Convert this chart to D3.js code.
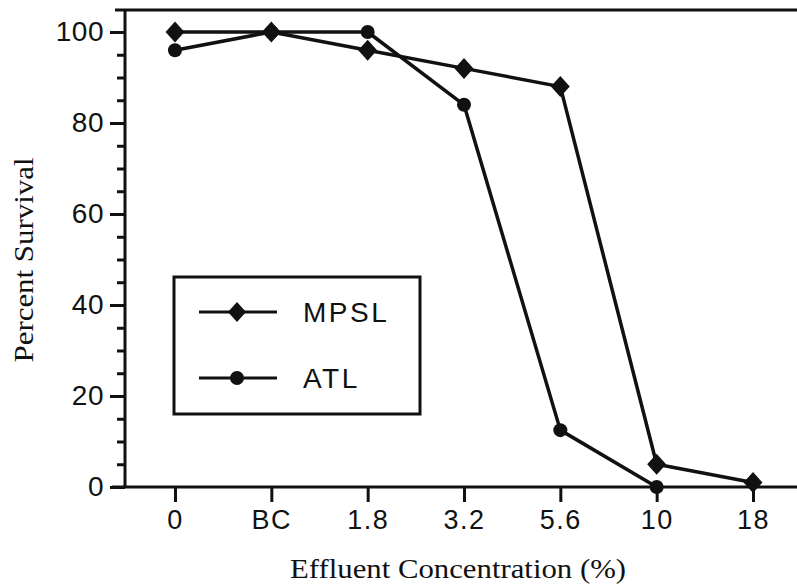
<!DOCTYPE html>
<html><head><meta charset="utf-8">
<script src="https://cdn.jsdelivr.net/npm/d3@7"></script>
<style>body{margin:0;background:#fff}</style>
</head><body>
<script>
const categories = ["0","BC","1.8","3.2","5.6","10","18"];
const mpsl = [100,100,96,92,88,5,1];
const atl = [96,100,100,84,12.5,0];
const yTicks = [0,20,40,60,80,100];
const yMinor = d3.range(0,101,5);
const seriesNames = ["MPSL","ATL"];

const W=797,H=587;
const svg=d3.select("body").append("svg").attr("width",W).attr("height",H);
const x=d3.scalePoint().domain(categories).range([175,753]);
const y=d3.scaleLinear().domain([0,100]).range([487,32]);
const ink="#111";
const sans="'Liberation Sans',Arial,sans-serif";
const serif="'Liberation Serif','Times New Roman',serif";

svg.append("line").attr("x1",115).attr("x2",W).attr("y1",10).attr("y2",10).attr("stroke",ink).attr("stroke-width",3);

const ya=svg.append("g").attr("transform","translate(125,0)")
  .call(d3.axisLeft(y).tickValues(yTicks).tickSize(15).tickPadding(6).tickFormat(d3.format("d")));
ya.select(".domain").remove();
ya.selectAll(".tick line").attr("stroke",ink).attr("stroke-width",3);
ya.selectAll(".tick text").attr("font-family",sans).attr("font-size",28).attr("letter-spacing",0.5).attr("fill",ink);
svg.append("g").attr("transform","translate(125,0)")
  .call(d3.axisLeft(y).tickValues(yMinor.filter(v=>v%20!==0)).tickSize(8).tickFormat(""))
  .call(g=>{g.select(".domain").remove();g.selectAll(".tick line").attr("stroke",ink).attr("stroke-width",3);});
svg.append("line").attr("x1",125).attr("x2",125).attr("y1",9).attr("y2",488).attr("stroke",ink).attr("stroke-width",3);

const xa=svg.append("g").attr("transform","translate(0,487)")
  .call(d3.axisBottom(x).tickSize(15).tickPadding(8));
xa.select(".domain").remove();
xa.selectAll(".tick line").attr("stroke",ink).attr("stroke-width",3);
xa.selectAll(".tick text").attr("font-family",sans).attr("font-size",27).attr("letter-spacing",1.5).attr("fill",ink);
svg.append("line").attr("x1",112).attr("x2",W).attr("y1",487).attr("y2",487).attr("stroke",ink).attr("stroke-width",3);

svg.append("text").attr("transform","translate(33,260) rotate(-90)").attr("text-anchor","middle")
  .attr("font-family",serif).attr("font-size",28).attr("fill",ink)
  .attr("textLength",205).attr("lengthAdjust","spacingAndGlyphs").text("Percent  Survival");
svg.append("text").attr("x",458).attr("y",578).attr("text-anchor","middle")
  .attr("font-family",serif).attr("font-size",28).attr("fill",ink)
  .attr("textLength",336).attr("lengthAdjust","spacingAndGlyphs").text("Effluent Concentration (%)");

const line=d3.line().x((d,i)=>x(categories[i])).y(d=>y(d));
const diamond=(cx,cy,s)=>`M${cx},${cy-s}L${cx+s*0.9},${cy}L${cx},${cy+s}L${cx-s*0.9},${cy}Z`;

function drawSeries(vals,type){
  svg.append("path").datum(vals).attr("d",line).attr("fill","none").attr("stroke",ink).attr("stroke-width",3.5).attr("stroke-linejoin","round");
  vals.forEach((v,i)=>{
    const cx=x(categories[i]),cy=y(v);
    if(type==="d") svg.append("path").attr("d",diamond(cx,cy,10.5)).attr("fill",ink);
    else svg.append("circle").attr("cx",cx).attr("cy",cy).attr("r",7).attr("fill",ink);
  });
}
drawSeries(atl,"c");
drawSeries(mpsl,"d");

svg.append("rect").attr("x",174).attr("y",277).attr("width",246).attr("height",137).attr("fill","#fff").attr("stroke",ink).attr("stroke-width",3);
const leg=[{name:seriesNames[0],t:"d",y:312},{name:seriesNames[1],t:"c",y:378}];
leg.forEach(l=>{
  svg.append("line").attr("x1",199).attr("x2",277).attr("y1",l.y).attr("y2",l.y).attr("stroke",ink).attr("stroke-width",3);
  if(l.t==="d") svg.append("path").attr("d",diamond(237,l.y,10)).attr("fill",ink);
  else svg.append("circle").attr("cx",237).attr("cy",l.y).attr("r",7).attr("fill",ink);
  svg.append("text").attr("x",303).attr("y",l.y+10).attr("font-family",sans)
    .attr("font-size",28).attr("letter-spacing",2.5).attr("fill",ink).text(l.name);
});
</script>
</body></html>
